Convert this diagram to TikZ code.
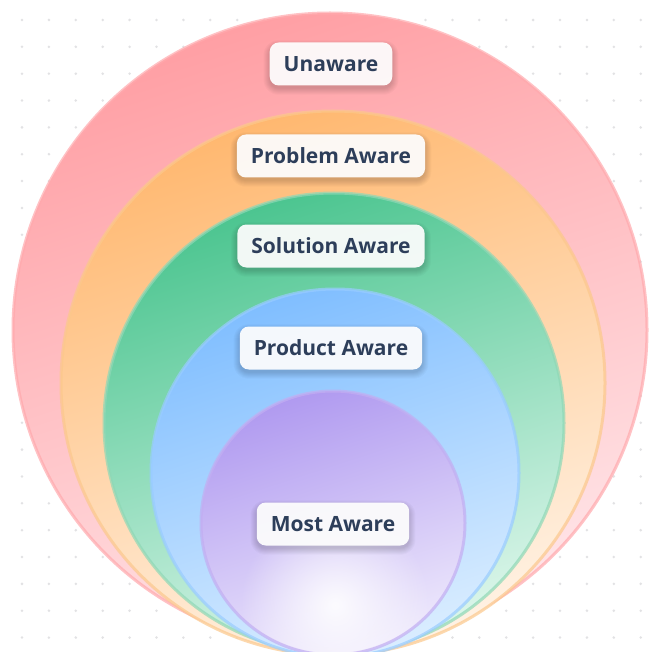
\documentclass[tikz,border=0pt]{standalone}
\usepackage{fontspec}
\setmainfont{Open Sans}
\usetikzlibrary{fadings,calc}

\definecolor{pinkTop}{HTML}{FF9FA4}
\definecolor{pinkMid}{HTML}{FFC3C7}
\definecolor{pinkBot}{HTML}{FFE6E9}
\definecolor{pinkEdge}{HTML}{FFA9AD}
\definecolor{orangeTop}{HTML}{FFB870}
\definecolor{orangeMid}{HTML}{FFD7AE}
\definecolor{orangeBot}{HTML}{FFF2E4}
\definecolor{orangeEdge}{HTML}{FCC88C}
\definecolor{greenTop}{HTML}{4CC590}
\definecolor{greenMid}{HTML}{A4E2C6}
\definecolor{greenBot}{HTML}{DDF6EB}
\definecolor{greenEdge}{HTML}{8FD8B6}
\definecolor{blueTop}{HTML}{80BEFF}
\definecolor{blueMid}{HTML}{B3D8FF}
\definecolor{blueBot}{HTML}{DAEDFF}
\definecolor{blueEdge}{HTML}{99CCFF}
\definecolor{purpleTop}{HTML}{B09AF0}
\definecolor{purpleMid}{HTML}{D4C7F6}
\definecolor{purpleBot}{HTML}{EFEAFC}
\definecolor{purpleEdge}{HTML}{C2AEF2}
\definecolor{labelText}{HTML}{2D3E5A}
\definecolor{dotGrey}{HTML}{E2E2E4}

\tikzfading[name=glow, inner color=transparent!0, outer color=transparent!100]

\pgfdeclarelayer{base}
\pgfdeclarelayer{shade}
\pgfsetlayers{base,shade,main}

\tikzset{
  ring/.style n args={4}{top color=#1, middle color=#2, bottom color=#3,
    shading angle=18, draw=#4, draw opacity=0.7, line width=3pt},
  stage/.style={rounded corners=9pt, fill=white, fill opacity=0.93,
    text opacity=1, text=labelText,
    font=\fontsize{21}{24}\selectfont\bfseries,
    minimum height=43pt, inner xsep=14pt},
  softshadow/.style={fill=black, fill opacity=0.022}
}

% soft drop shadow under a named label node
\newcommand{\labelshadow}[1]{%
  \begin{pgfonlayer}{shade}
    \foreach \k in {0,...,6}
      \fill[softshadow, rounded corners={9pt+\k pt}]
        ($(#1.south west)+(-\k,{\k+3})$) rectangle ($(#1.north east)+(\k,{-\k+4})$);
  \end{pgfonlayer}}

\begin{document}
\begin{tikzpicture}[x=1pt,y=-1pt]
  \useasboundingbox (0,0) rectangle (648,652);
  \clip (0,0) rectangle (648,652);

  \begin{pgfonlayer}{base}
    \fill[white] (0,0) rectangle (648,652);
    % dotted background grid
    \foreach \i in {0,...,23}
      \foreach \j in {0,...,23}
        \fill[dotGrey] ({22+26.9*\i},{20+26.85*\j}) circle (1.4);

    % nested awareness circles, outermost first
    \path[ring={pinkTop}{pinkMid}{pinkBot}{pinkEdge}]         (330,330) circle (317);
    \path[ring={orangeTop}{orangeMid}{orangeBot}{orangeEdge}] (333,383) circle (272);
    \path[ring={greenTop}{greenMid}{greenBot}{greenEdge}]     (334,423) circle (230);
    \path[ring={blueTop}{blueMid}{blueBot}{blueEdge}]         (335,473) circle (184);
    \path[ring={purpleTop}{purpleMid}{purpleBot}{purpleEdge}] (333,523) circle (132);

    % soft highlight low in the innermost circle
    \begin{scope}
      \clip (333,523) circle (130);
      \fill[white, path fading=glow, fill opacity=0.9] (335,605) circle (95);
    \end{scope}
  \end{pgfonlayer}

  % stage labels
  \node[stage] (unaware)  at (331,64)  {Unaware};
  \node[stage] (problem)  at (331,156) {Problem Aware};
  \node[stage] (solution) at (331,246) {Solution Aware};
  \node[stage] (product)  at (331,348) {Product Aware};
  \node[stage] (most)     at (333,524) {Most Aware};

  \labelshadow{unaware}
  \labelshadow{problem}
  \labelshadow{solution}
  \labelshadow{product}
  \labelshadow{most}
\end{tikzpicture}
\end{document}
